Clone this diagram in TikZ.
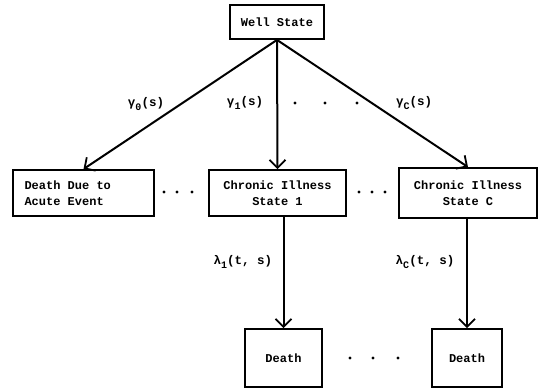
\documentclass[tikz,border=0pt]{standalone}
\usepackage{fontspec}
\setmonofont{Liberation Mono}
\usetikzlibrary{arrows.meta}
\newcommand{\sbs}[1]{\lower3.5pt\hbox{\fontsize{10}{10}\selectfont#1}}
\newcommand{\lline}[1]{\makebox[118pt][l]{#1}}
\tikzset{
  box/.style={draw, line width=1.8pt, inner sep=0pt, font=\fontsize{12}{16}\selectfont\ttfamily\bfseries},
  arr/.style={line width=2pt, -{Straight Barb[length=8pt,width=16pt,line width=1.8pt]}},
  lbl/.style={font=\fontsize{12.5}{16}\selectfont\ttfamily\bfseries}
}

\begin{document}
\begin{tikzpicture}[x=1pt,y=-1pt]
\useasboundingbox (0,0) rectangle (544,389);
% states
\node[box, minimum width=94pt, minimum height=34pt] (well) at (277,22) {Well State};
\node[box, minimum width=141pt, minimum height=46pt, align=left] (acute) at (83.5,193) {\lline{Death Due to}\\\lline{Acute Event}};
\node[box, minimum width=137pt, minimum height=46pt, align=center] (chronA) at (277.5,193) {Chronic Illness\\State 1};
\node[box, minimum width=138pt, minimum height=50pt, align=center] (chronC) at (468,193) {Chronic Illness\\State C};
\node[box, minimum width=77pt, minimum height=58pt] (deathA) at (283.5,358) {Death};
\node[box, minimum width=70pt, minimum height=58pt] (deathC) at (467,358) {Death};
% transitions
\draw[arr] (well.south) -- (acute.north);
\draw[arr] (well.south) -- (chronA.north);
\draw[arr] (well.south) -- (chronC.north);
\draw[arr] (deathA.north |- chronA.south) -- (deathA.north);
\draw[arr] (deathC.north |- chronC.south) -- (deathC.north);
% rates
\node[lbl] (g0) at (146,104) {γ\sbs{0}(s)};
\node[lbl] (g1) at (245,103) {γ\sbs{1}(s)};
\node[lbl] (gC) at (414,103) {γ\sbs{C}(s)};
\node[lbl] (l1) at (243,262) {λ\sbs{1}(t, s)};
\node[lbl] (lC) at (425,262) {λ\sbs{C}(t, s)};
% dots
\foreach \x/\y in {295/103,325/103,357/103,164/192,177/192,192/192,359/192,372/192,385/192,350/358,373/358,398/358}
  \fill (\x,\y) circle (1.7pt);
\end{tikzpicture}
\end{document}
